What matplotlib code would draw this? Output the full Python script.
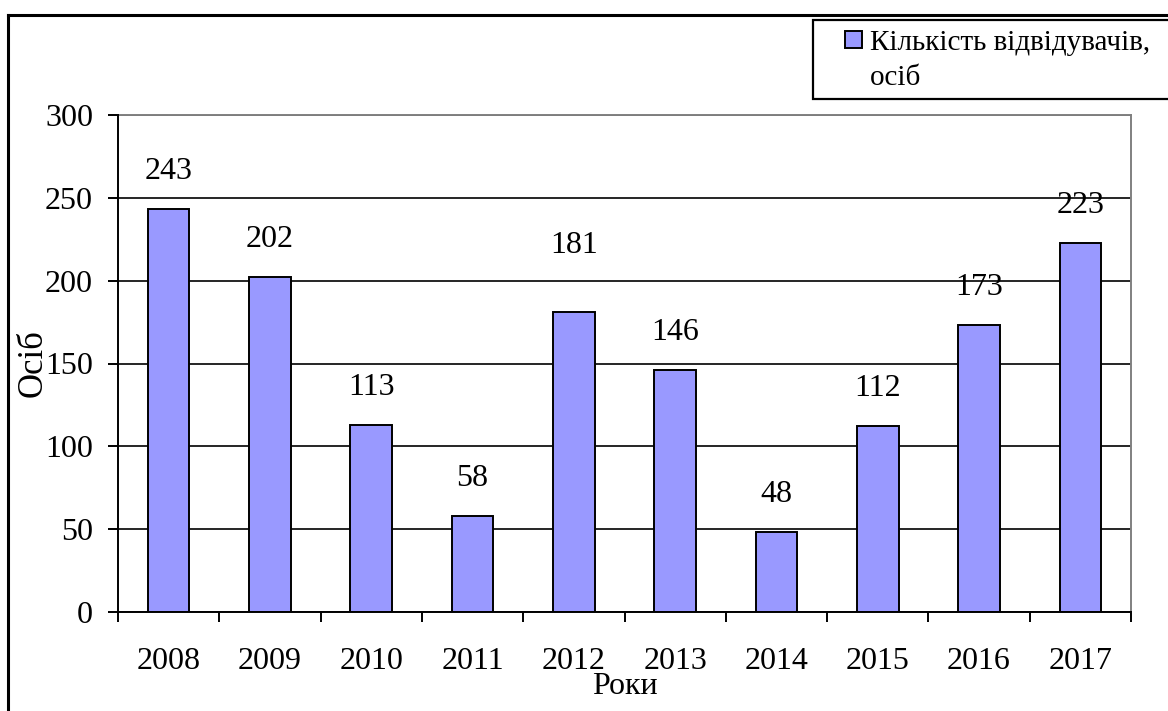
import matplotlib
matplotlib.use("Agg")
import matplotlib.pyplot as plt
from matplotlib.lines import Line2D
from matplotlib.patches import Rectangle

years = ["2008", "2009", "2010", "2011", "2012", "2013", "2014", "2015", "2016", "2017"]
visitors = [243, 202, 113, 58, 181, 146, 48, 112, 173, 223]
y_ticks = [0, 50, 100, 150, 200, 250, 300]
legend_lines = ["Кількість відвідувачів,", "осіб"]

plt.rcParams["font.family"] = ["Liberation Serif", "DejaVu Serif"]
FS = 23
LEG_FS = 21
BAR = "#9999ff"
W, H = 1168, 711

fig = plt.figure(figsize=(W / 100, H / 100), dpi=100)
ax = fig.add_axes([118 / W, 1 - 612 / H, (1131 - 118) / W, (612 - 115) / H])

x = list(range(len(years)))
ax.bar(x, visitors, width=0.41, color=BAR, edgecolor="black", linewidth=1.4, zorder=3)

# value labels; Excel pushed the 2012 one higher
for xi, v, yr in zip(x, visitors, years):
    off = 48 if yr == "2012" else 27
    ax.annotate(str(v), (xi, v), textcoords="offset points", xytext=(0, off),
                ha="center", va="center", fontsize=FS)

ax.set_xlim(-0.5, len(years) - 0.5)
ax.set_ylim(0, 300)
ax.set_yticks(y_ticks)
ax.set_yticklabels([str(t) for t in y_ticks], fontsize=FS)
ax.set_xticks(x)
ax.set_xticklabels(years, fontsize=FS)
ax.tick_params(axis="x", length=0, pad=25)
ax.set_xticks([i - 0.5 for i in range(len(years) + 1)], minor=True)
ax.tick_params(axis="x", which="minor", length=7, width=1.4, direction="out")
ax.tick_params(axis="y", length=7, width=1.4, direction="out", pad=11)

ax.grid(axis="y", color="black", linewidth=1.2, zorder=0)
for s in ["left", "bottom"]:
    ax.spines[s].set_color("black")
    ax.spines[s].set_linewidth(1.4)
    ax.spines[s].set_zorder(4)
for s in ["top", "right"]:
    ax.spines[s].set_color("#808080")
    ax.spines[s].set_linewidth(1.4)

# axis title sits right against the "150" label, as in the original
ax.set_ylabel("Осіб", fontsize=25, labelpad=-3)
ax.set_xlabel("Роки", fontsize=FS, labelpad=-3)

# legend box drawn by hand: Excel keeps the swatch on the first text line
fig.add_artist(Rectangle((813 / W, 1 - 99 / H), 400 / W, 79 / H, transform=fig.transFigure,
                         facecolor="white", edgecolor="black", lw=1.6))
fig.add_artist(Rectangle((845 / W, 1 - 48 / H), 17 / W, 17 / H, transform=fig.transFigure,
                         facecolor=BAR, edgecolor="black", lw=1.4))
fig.text(870 / W, 1 - 43 / H, legend_lines[0], fontsize=LEG_FS, ha="left", va="center")
fig.text(870 / W, 1 - 78 / H, legend_lines[1], fontsize=LEG_FS, ha="left", va="center")

# outer chart frame (runs off the picture on right and bottom)
fig.add_artist(Line2D([8 / W, 8 / W], [-0.05, 1 - 15 / H], color="black", lw=2.2))
fig.add_artist(Line2D([8 / W, 1.05], [1 - 15 / H, 1 - 15 / H], color="black", lw=2.2))

fig.savefig("out.png", dpi=100)
